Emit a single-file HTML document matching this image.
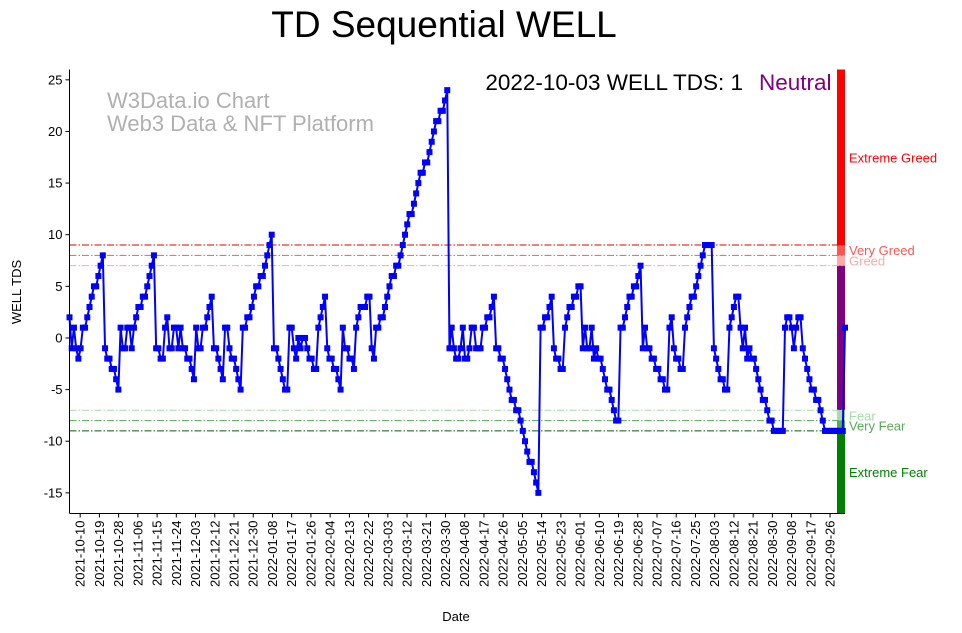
<!DOCTYPE html>
<html><head><meta charset="utf-8">
<style>
html,body{margin:0;padding:0;background:#fff;}
svg{display:block;font-family:"Liberation Sans","DejaVu Sans",sans-serif;}
</style></head>
<body>
<svg id="chart" width="962" height="633" viewBox="0 0 962 633" xmlns="http://www.w3.org/2000/svg">
<text x="444" y="37" font-size="37" text-anchor="middle" fill="#000">TD Sequential WELL</text>
<g id="zones"></g>
<g id="hlines"></g>
<g id="watermark">
<text x="107" y="108" font-size="22" fill="#b0b0b0">W3Data.io Chart</text>
<text x="107" y="131" font-size="22" fill="#b0b0b0">Web3 Data &amp; NFT Platform</text>
</g>
<g id="series"></g>
<g id="axes"></g>
<text x="743" y="90" font-size="22.5" text-anchor="end" fill="#000">2022-10-03 WELL TDS: 1</text>
<text x="759" y="90" font-size="22.5" fill="#800080">Neutral</text>
<text transform="translate(21,292) rotate(-90)" font-size="13" text-anchor="middle">WELL TDS</text>
<text x="456" y="621" font-size="13" text-anchor="middle">Date</text>
</svg>
<script>
const startDate = "2021-10-05";
const tdsValues = [
2,-1,1,-1,-2,-1,1,1,2,3,4,5,5,6,7,8,
-1,-2,-2,-3,-3,-4,-5,1,-1,-1,1,1,-1,1,2,3,3,4,4,5,6,7,8,
-1,-1,-2,-2,1,2,-1,-1,1,1,-1,1,-1,-1,-2,-2,-3,-4,1,-1,-1,1,1,2,3,4,
-1,-1,-2,-3,-4,1,1,-1,-2,-2,-3,-4,-5,1,1,2,2,3,4,5,5,6,6,7,8,9,10,
-1,-1,-2,-3,-4,-5,-5,1,1,-1,-2,0,-1,0,0,-1,-2,-2,-3,-3,1,2,3,4,
-1,-2,-2,-3,-3,-4,-5,1,-1,-1,-2,-2,-3,1,2,3,3,3,4,4,-1,-2,
1,1,2,2,3,4,5,6,6,7,7,8,9,10,11,12,12,13,14,15,16,16,17,17,18,19,20,21,21,22,22,23,24,
-1,1,-1,-2,-2,-1,1,-2,-2,-1,1,1,-1,-1,-1,1,1,2,2,3,4,
-1,-1,-2,-2,-3,-4,-5,-6,-6,-7,-7,-8,-9,-10,-11,-12,-12,-13,-14,-15,
1,1,2,2,3,4,-1,-2,-2,-3,-3,1,2,3,3,4,4,5,5,
-1,1,-1,-1,1,-2,-1,-2,-2,-3,-4,-5,-5,-6,-7,-8,-8,
1,1,2,3,4,4,5,5,6,7,
-1,1,-1,-1,-2,-2,-3,-3,-4,-4,-5,-5,1,2,-1,-2,-2,-3,-3,
1,2,3,4,4,5,6,7,8,9,9,9,9,
-1,-2,-3,-4,-4,-5,-5,1,2,3,4,4,1,-1,1,-2,-1,-2,-2,-3,-4,-5,-6,-6,-7,-8,-8,-9,-9,-9,-9,-9,
1,2,2,1,-1,1,2,2,-1,-2,-3,-4,-5,-5,-6,-6,-7,-8,-9,-9,-9,-9,-9,-9,-9,-9,-9,1
];
const yTicks = [25,20,15,10,5,0,-5,-10,-15];
const xTickDates = ["2021-10-10","2021-10-19","2021-10-28","2021-11-06","2021-11-15","2021-11-24","2021-12-03","2021-12-12","2021-12-21","2021-12-30","2022-01-08","2022-01-17","2022-01-26","2022-02-04","2022-02-13","2022-02-22","2022-03-03","2022-03-12","2022-03-21","2022-03-30","2022-04-08","2022-04-17","2022-04-26","2022-05-05","2022-05-14","2022-05-23","2022-06-01","2022-06-10","2022-06-19","2022-06-28","2022-07-07","2022-07-16","2022-07-25","2022-08-03","2022-08-12","2022-08-21","2022-08-30","2022-09-08","2022-09-17","2022-09-26"];
const endDate = "2022-10-03";
const zoneLevels = [9,8,7,-7,-8,-9];

const NS="http://www.w3.org/2000/svg";
const L=69.5,R=845,T=69.5,B=513.5,YMIN=-17,YMAX=26;
const t0=Date.parse(startDate), t1=Date.parse(endDate);
function xOfDate(t){return L+(t-t0)/(t1-t0)*(R-L);}
function xOfIndex(i){return L+i/(tdsValues.length-1)*(R-L);}
function yOf(v){return B-(v-YMIN)/(YMAX-YMIN)*(B-T);}
function mk(tag,attrs,parent){const e=document.createElementNS(NS,tag);for(const k in attrs)e.setAttribute(k,attrs[k]);parent.appendChild(e);return e;}

const zones=document.getElementById('zones');
const bands=[[YMAX,9,'#ff0000'],[9,8,'#ff5555'],[8,7,'#ffaaaa'],[7,-7,'#800080'],[-7,-8,'#a8dca8'],[-8,-9,'#55aa55'],[-9,YMIN,'#008000']];
bands.forEach(b=>{
  const r=mk('rect',{x:837,y:yOf(b[0]),width:8,height:yOf(b[1])-yOf(b[0]),fill:b[2]},zones);
  
  
});
const zlabels=[["Extreme Greed",(YMAX+9)/2,'#ff0000'],["Very Greed",8.5,'#ff5555'],["Greed",7.5,'#ffaaaa'],["Fear",-7.5,'#a8dca8'],["Very Fear",-8.5,'#55aa55'],["Extreme Fear",(YMIN-9)/2,'#008000']];
zlabels.forEach(z=>{
  const t=mk('text',{x:849,y:yOf(z[1])+5,'font-size':13,fill:z[2]},zones);
  t.textContent=z[0];
  
  
});

const hl=document.getElementById('hlines');
const lineColors=['#dd0000','#ff5555','#ffaaaa','#a8dca8','#55aa55','#006400'];
zoneLevels.forEach((v,i)=>{
  const l=mk('line',{x1:L,x2:R,y1:yOf(v),y2:yOf(v),stroke:lineColors[i],'stroke-width':1,'stroke-dasharray':'7,2,1.5,2'},hl);
  
  
});

const sg=document.getElementById('series');
const pts=tdsValues.map((v,i)=>xOfIndex(i).toFixed(2)+','+yOf(v).toFixed(2)).join(' ');
const pl=mk('polyline',{points:pts,fill:'none',stroke:'#0000ff','stroke-width':2,'stroke-linejoin':'round'},sg);


tdsValues.forEach((v,i)=>{
  const m=mk('rect',{x:xOfIndex(i)-3,y:yOf(v)-3,width:6,height:6,fill:'#0000ff'},sg);
  
  
});

const ax=document.getElementById('axes');
mk('line',{x1:L,x2:L,y1:T,y2:B,stroke:'#000','stroke-width':1},ax);
mk('line',{x1:L,x2:R,y1:B,y2:B,stroke:'#000','stroke-width':1},ax);
yTicks.forEach(v=>{
  const y=yOf(v);
  mk('line',{x1:L-4,x2:L,y1:y,y2:y,stroke:'#000'},ax);
  const t=mk('text',{x:L-7,y:y+4.5,'font-size':13,'text-anchor':'end'},ax);
  t.textContent=v;
  
  
});
xTickDates.forEach(d=>{
  const x=xOfDate(Date.parse(d));
  mk('line',{x1:x,x2:x,y1:B,y2:B+4,stroke:'#000'},ax);
  const t=mk('text',{transform:`translate(${x+4.5},${B+7}) rotate(-90)`,'font-size':13,'text-anchor':'end'},ax);
  t.textContent=d;
  
  
});
</script>
</body></html>
